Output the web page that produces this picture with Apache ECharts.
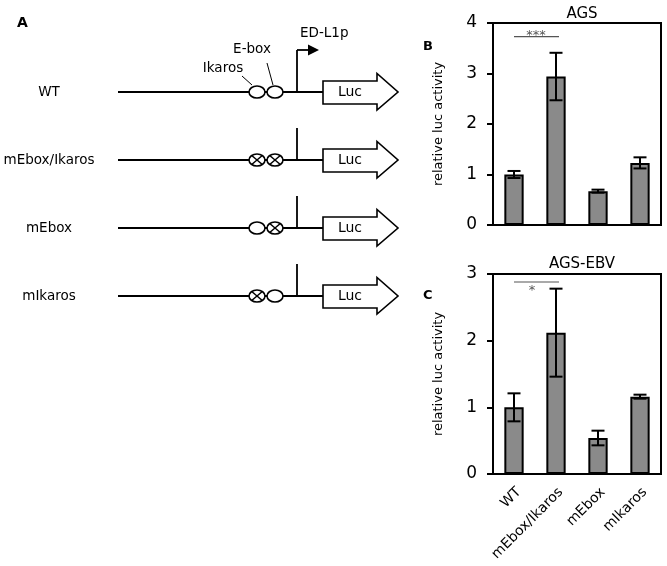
<!DOCTYPE html>
<html><head><meta charset="utf-8">
<script src="https://cdn.jsdelivr.net/npm/echarts@6/dist/echarts.min.js"></script>
<style>html,body{margin:0;padding:0;background:#fff}#c{width:667px;height:566px}</style>
</head><body><div id="c"></div>
<script>
// ---- data ----
const categories = ['WT', 'mEbox/Ikaros', 'mEbox', 'mIkaros'];
const agsValues = [1.0, 2.94, 0.67, 1.23];
const agsErrors = [0.07, 0.47, 0.03, 0.11];
const ebvValues = [1.0, 2.12, 0.54, 1.16];
const ebvErrors = [0.21, 0.66, 0.11, 0.03];
const agsTicks = [0, 1, 2, 3, 4];
const ebvTicks = [0, 1, 2, 3];
// significance: [fromCategory, toCategory, yValue, label]
const agsSig = [[0, 1, 3.73, '***']];
const ebvSig = [[0, 1, 2.88, '*']];
// schematic constructs: [label, ikarosMutated, eboxMutated]
const constructs = [['WT', 0, 0], ['mEbox/Ikaros', 1, 1], ['mEbox', 0, 1], ['mIkaros', 1, 0]];

const FONT = 'DejaVu Sans';
const chart = echarts.init(document.getElementById('c'), null, {renderer: 'canvas'});

function errRender(params, api) {
  const x = api.value(0), v = api.value(1), e = api.value(2);
  const top = api.coord([x, v + e]);
  const bot = api.coord([x, v - e]);
  const hw = 6.5;
  const st = {stroke: '#000', lineWidth: 2};
  return {type: 'group', children: [
    {type: 'line', shape: {x1: top[0], y1: top[1], x2: bot[0], y2: bot[1]}, style: st},
    {type: 'line', shape: {x1: top[0] - hw, y1: top[1], x2: top[0] + hw, y2: top[1]}, style: st},
    {type: 'line', shape: {x1: bot[0] - hw, y1: bot[1], x2: bot[0] + hw, y2: bot[1]}, style: st}
  ]};
}
function sigRender(below) {
  return function (params, api) {
    const a = api.coord([api.value(0), api.value(2)]);
    const b = api.coord([api.value(1), api.value(2)]);
    return {type: 'group', children: [
      {type: 'line', shape: {x1: a[0], y1: a[1], x2: b[0] + 3, y2: b[1]}, style: {stroke: '#555', lineWidth: 1.2}},
      {type: 'text', style: {text: api.value(3), x: (a[0] + b[0]) / 2 + (below ? -3 : 1), y: a[1] + (below ? 9 : -1),
        align: 'center', verticalAlign: 'middle', font: '13px ' + FONT, fill: '#555'}}
    ]};
  };
}

function yAxis(gi, max) {
  return {
    type: 'value', gridIndex: gi, min: 0, max: max, interval: 1,
    name: 'relative luc activity', nameLocation: 'middle', nameGap: 48,
    nameTextStyle: {fontFamily: FONT, fontSize: 13, color: '#000'},
    axisLine: {show: true, lineStyle: {color: '#000', width: 2}},
    axisTick: {show: true, length: 6, lineStyle: {color: '#000', width: 2}},
    axisLabel: {fontFamily: FONT, fontSize: 17, color: '#000', margin: 16},
    splitLine: {show: false}
  };
}
function xAxis(gi, showLabels) {
  return {
    type: 'category', gridIndex: gi, data: categories,
    axisLine: {show: true, lineStyle: {color: '#000', width: 2}},
    axisTick: {show: false},
    axisLabel: {show: showLabels, rotate: 45, fontFamily: FONT, fontSize: 14, color: '#000', margin: 11,
      verticalAlign: 'top', interval: 0}
  };
}

// ---- schematic (panel A) ----
const graphics = [];
const rowY = [92, 160, 228, 296];
graphics.push({type: 'text', left: 17, top: 16, style: {text: 'A', font: 'bold 14px ' + FONT, fill: '#000'}});
constructs.forEach((c, i) => {
  const y = rowY[i];
  graphics.push({type: 'text', x: 49, y: y, style: {text: c[0], font: '13.5px ' + FONT, fill: '#000', align: 'center', verticalAlign: 'middle'}});
  graphics.push({type: 'line', shape: {x1: 118, y1: y, x2: 323, y2: y}, style: {stroke: '#000', lineWidth: 1.8}});
  const vTop = i === 0 ? y - 42 : y - 32;
  graphics.push({type: 'line', shape: {x1: 297, y1: y, x2: 297, y2: vTop}, style: {stroke: '#000', lineWidth: 1.8}});
  if (i === 0) {
    graphics.push({type: 'line', shape: {x1: 297, y1: vTop, x2: 309, y2: vTop}, style: {stroke: '#000', lineWidth: 1.8}});
    graphics.push({type: 'polygon', shape: {points: [[308, vTop - 5.5], [319, vTop], [308, vTop + 5.5]]}, style: {fill: '#000'}});
  }
  [[257, c[1]], [275, c[2]]].forEach(([cx, mut]) => {
    graphics.push({type: 'ellipse', shape: {cx: cx, cy: y, rx: 8, ry: 6}, style: {fill: '#fff', stroke: '#000', lineWidth: 1.6}, z: 10});
    if (mut) {
      const dx = 5, dy = 4.2;
      graphics.push({type: 'line', shape: {x1: cx - dx, y1: y - dy, x2: cx + dx, y2: y + dy}, style: {stroke: '#000', lineWidth: 1.5}, z: 11});
      graphics.push({type: 'line', shape: {x1: cx - dx, y1: y + dy, x2: cx + dx, y2: y - dy}, style: {stroke: '#000', lineWidth: 1.5}, z: 11});
    }
  });
  graphics.push({type: 'polygon', shape: {points: [[323, y - 11], [377, y - 11], [377, y - 18.5], [398, y], [377, y + 18], [377, y + 12], [323, y + 12]]},
    style: {fill: '#fff', stroke: '#000', lineWidth: 1.6}});
  graphics.push({type: 'text', x: 350, y: y + 0.5, style: {text: 'Luc', font: '14px ' + FONT, fill: '#000', align: 'center', verticalAlign: 'middle'}});
});
graphics.push({type: 'text', x: 300, y: 33, style: {text: 'ED-L1p', font: '13.5px ' + FONT, fill: '#000', align: 'left', verticalAlign: 'middle'}});
graphics.push({type: 'text', x: 252, y: 49, style: {text: 'E-box', font: '13.5px ' + FONT, fill: '#000', align: 'center', verticalAlign: 'middle'}});
graphics.push({type: 'text', x: 223, y: 68, style: {text: 'Ikaros', font: '13.5px ' + FONT, fill: '#000', align: 'center', verticalAlign: 'middle'}});
graphics.push({type: 'line', shape: {x1: 242, y1: 76, x2: 252, y2: 85}, style: {stroke: '#000', lineWidth: 1}});
graphics.push({type: 'line', shape: {x1: 267, y1: 63, x2: 273, y2: 85}, style: {stroke: '#000', lineWidth: 1}});
graphics.push({type: 'text', x: 423, y: 40, style: {text: 'B', font: 'bold 13px ' + FONT, fill: '#000'}});
graphics.push({type: 'text', x: 423, y: 289, style: {text: 'C', font: 'bold 13px ' + FONT, fill: '#000'}});

const gridStyle = {show: true, borderColor: '#000', borderWidth: 2, backgroundColor: 'transparent', containLabel: false};
const option = {
  animation: false,
  backgroundColor: '#fff',
  title: [
    {text: 'AGS', left: 577, top: 2, textAlign: 'center', textStyle: {fontFamily: FONT, fontSize: 15, fontWeight: 'normal', color: '#000'}},
    {text: 'AGS-EBV', left: 577, top: 252, textAlign: 'center', textStyle: {fontFamily: FONT, fontSize: 15, fontWeight: 'normal', color: '#000'}}
  ],
  grid: [
    Object.assign({left: 493, top: 23, width: 168, height: 202}, gridStyle),
    Object.assign({left: 493, top: 274, width: 168, height: 200}, gridStyle)
  ],
  xAxis: [xAxis(0, false), xAxis(1, true)],
  yAxis: [yAxis(0, 4), yAxis(1, 3)],
  graphic: graphics,
  series: [
    {type: 'bar', xAxisIndex: 0, yAxisIndex: 0, data: agsValues, barWidth: '46%',
      itemStyle: {color: '#8a8a8a', borderColor: '#000', borderWidth: 2}},
    {type: 'custom', xAxisIndex: 0, yAxisIndex: 0, renderItem: errRender, z: 5,
      data: agsValues.map((v, i) => [i, v, agsErrors[i]])},
    {type: 'custom', xAxisIndex: 0, yAxisIndex: 0, renderItem: sigRender(false), data: agsSig},
    {type: 'bar', xAxisIndex: 1, yAxisIndex: 1, data: ebvValues, barWidth: '46%',
      itemStyle: {color: '#8a8a8a', borderColor: '#000', borderWidth: 2}},
    {type: 'custom', xAxisIndex: 1, yAxisIndex: 1, renderItem: errRender, z: 5,
      data: ebvValues.map((v, i) => [i, v, ebvErrors[i]])},
    {type: 'custom', xAxisIndex: 1, yAxisIndex: 1, renderItem: sigRender(true), data: ebvSig}
  ]
};
chart.setOption(option);
</script></body></html>
